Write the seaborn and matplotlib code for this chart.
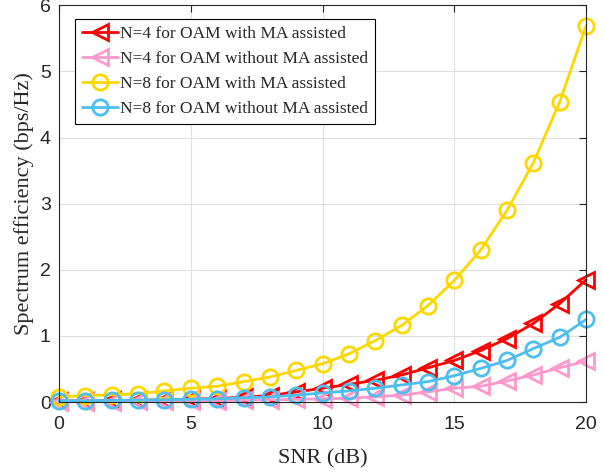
import numpy as np
import pandas as pd
import matplotlib
matplotlib.use('Agg')
import matplotlib.pyplot as plt
import seaborn as sns

# SNR axis and spectral efficiency
snr = list(range(0, 21))

n4_ma = [0.02, 0.02, 0.025, 0.03, 0.035, 0.045, 0.055, 0.075, 0.10, 0.155, 0.21,
         0.27, 0.33, 0.41, 0.52, 0.63, 0.78, 0.96, 1.19, 1.49, 1.85]
n4_no_ma = [0.005, 0.007, 0.009, 0.011, 0.014, 0.018, 0.022, 0.028, 0.035, 0.042, 0.05,
            0.06, 0.08, 0.105, 0.155, 0.21, 0.24, 0.32, 0.41, 0.52, 0.62]
n8_ma = [0.08, 0.10, 0.11, 0.13, 0.17, 0.21, 0.24, 0.31, 0.38, 0.48, 0.58,
         0.73, 0.93, 1.16, 1.46, 1.84, 2.30, 2.90, 3.62, 4.54, 5.69]
n8_no_ma = [0.02, 0.022, 0.026, 0.03, 0.036, 0.043, 0.05, 0.065, 0.08, 0.105, 0.14,
            0.17, 0.21, 0.26, 0.31, 0.40, 0.51, 0.63, 0.81, 0.98, 1.25]

labels = ['N=4 for OAM with MA assisted', 'N=4 for OAM without MA assisted',
          'N=8 for OAM with MA assisted', 'N=8 for OAM without MA assisted']
series = [n4_ma, n4_no_ma, n8_ma, n8_no_ma]
colors = ['#ff0000', '#ff99cc', '#ffd700', '#4dbeee']
markers = ['<', '<', 'o', 'o']

sns.set_style('white')
plt.rcParams['font.family'] = ['Liberation Sans', 'DejaVu Sans']
serif = ['Liberation Serif', 'DejaVu Serif']

fig, ax = plt.subplots(figsize=(6.03, 4.72), dpi=100)
fig.subplots_adjust(left=0.098, right=0.972, top=0.989, bottom=0.148)

for vals, lab, c, m in zip(series, labels, colors, markers):
    df = pd.DataFrame({'SNR': snr, 'SE': vals})
    sns.lineplot(data=df, x='SNR', y='SE', ax=ax, color=c, label=lab,
                 linewidth=2, marker=m, markersize=11, markerfacecolor='none',
                 markeredgecolor=c, markeredgewidth=2, clip_on=False)

ax.set_xlim(0, 20)
ax.set_ylim(0, 6)
ax.set_xticks([0, 5, 10, 15, 20])
ax.set_yticks(range(0, 7))
ax.grid(True, color='#e0e0e0', linewidth=0.8)
ax.set_axisbelow(True)
for s in ax.spines.values():
    s.set_visible(True)
    s.set_color('#262626')
    s.set_linewidth(0.8)
ax.tick_params(direction='in', top=True, right=True, length=5, labelsize=14,
               colors='#262626', width=0.8)
ax.tick_params(axis='x', pad=10)
ax.tick_params(axis='y', pad=6)

ax.set_xlabel('SNR (dB)', family=serif, fontsize=16, color='#262626', labelpad=12)
ax.set_ylabel('Spectrum efficiency (bps/Hz)', family=serif, fontsize=16, color='#262626',
              labelpad=4)

leg = ax.legend(loc='upper left', bbox_to_anchor=(0.03, 0.965), prop={'family': serif, 'size': 12.5},
                frameon=True, fancybox=False, edgecolor='black', framealpha=1,
                handlelength=2.1, labelspacing=0.5, borderpad=0.4, handletextpad=0.1,
                borderaxespad=0)
leg.get_frame().set_linewidth(0.8)

fig.savefig('out.png', dpi=100)
